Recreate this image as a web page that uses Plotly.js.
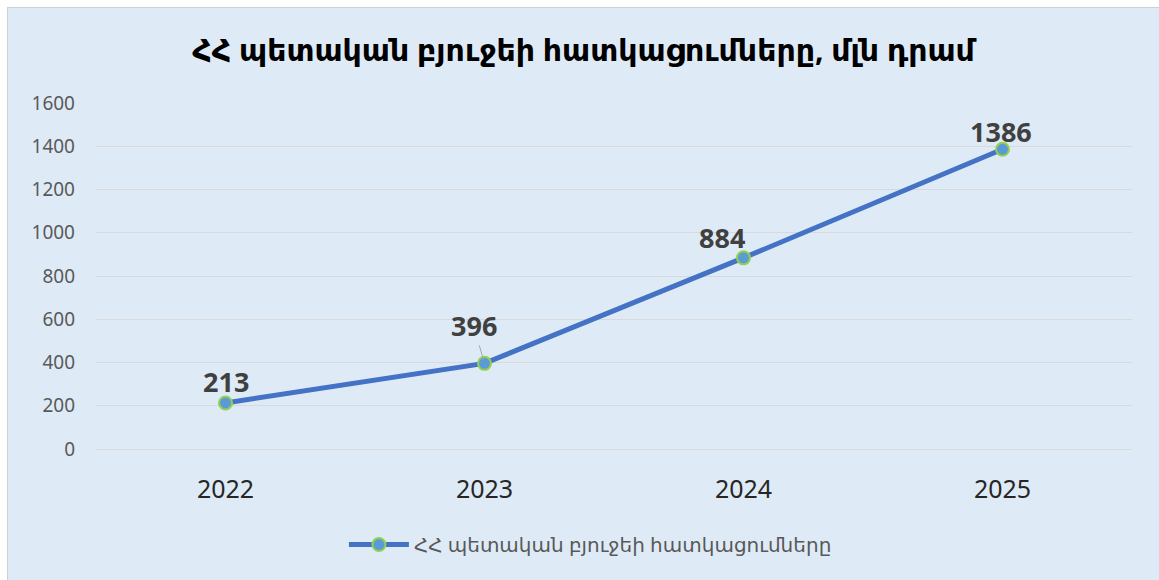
<!DOCTYPE html>
<html>
<head>
<meta charset="utf-8">
<script src="https://cdn.plot.ly/plotly-3.0.1.min.js"></script>
<style>
html,body{margin:0;padding:0;background:#ffffff;width:1159px;height:580px;overflow:hidden;}
#chart{position:absolute;left:7px;top:7px;width:1152px;height:573px;border-left:1px solid #d0d0d0;border-top:1px solid #d0d0d0;box-sizing:border-box;}
</style>
</head>
<body>
<div id="chart"></div>
<script>
const years = ["2022", "2023", "2024", "2025"];
const allocations = [213, 396, 884, 1386];
const seriesName = "ՀՀ պետական բյուջեի հատկացումները";
const chartTitle = "ՀՀ պետական բյուջեի հատկացումները, մլն դրամ";
const yTicks = [0, 200, 400, 600, 800, 1000, 1200, 1400, 1600];

const labelOffsets = [
  {ax: 0, ay: -21, arrow: false},
  {ax: -11, ay: -38, arrow: true},
  {ax: -22, ay: -20, arrow: false},
  {ax: -2, ay: -18, arrow: false}
];

const trace = {
  x: years,
  y: allocations,
  type: "scatter",
  mode: "lines+markers",
  name: seriesName,
  line: {color: "#4472c4", width: 5},
  marker: {size: 13, color: "#5b9bd5", line: {color: "#92d050", width: 2}},
  hoverinfo: "x+y"
};

const annotations = years.map((yr, i) => {
  const o = labelOffsets[i];
  const a = {
    x: i, y: allocations[i], xref: "x", yref: "y",
    text: "<b>" + allocations[i] + "</b>",
    font: {family: "Noto Sans, DejaVu Sans, sans-serif", size: 27, color: "#404040"}
  };
  if (o.arrow) {
    Object.assign(a, {showarrow: true, ax: o.ax, ay: o.ay, arrowhead: 0, arrowwidth: 1, arrowcolor: "#a6a6a6", standoff: 4});
  } else {
    Object.assign(a, {showarrow: false, xshift: o.ax, yshift: -o.ay, yanchor: "middle"});
  }
  return a;
});

const layout = {
  width: 1151, height: 572,
  paper_bgcolor: "#deebf7",
  plot_bgcolor: "#deebf7",
  margin: {l: 88, r: 27, t: 95, b: 131},
  title: {
    text: "<b>" + chartTitle + "</b>",
    font: {family: "Noto Sans, DejaVu Sans, sans-serif", size: 30, color: "#000000"},
    xref: "container", x: 0.5, xanchor: "center",
    yref: "container", y: 0.925, yanchor: "middle"
  },
  xaxis: {
    type: "category",
    range: [-0.5, 3.5],
    showgrid: false, zeroline: false, showline: false,
    ticks: "", ticklabelstandoff: 23,
    tickfont: {family: "Noto Sans, DejaVu Sans, sans-serif", size: 25, color: "#262626"},
    fixedrange: true
  },
  yaxis: {
    range: [0, 1600],
    tickvals: yTicks,
    ticktext: yTicks.map(String),
    showgrid: true, gridcolor: "#d9d9d9", gridwidth: 1,
    zeroline: true, zerolinecolor: "#d9d9d9", zerolinewidth: 1,
    showline: false, ticks: "", ticklabelstandoff: 20,
    tickfont: {family: "Noto Sans, DejaVu Sans, sans-serif", size: 19, color: "#595959"},
    fixedrange: true
  },
  showlegend: true,
  legend: {
    orientation: "h",
    xref: "container", x: 0.506, xanchor: "center",
    yref: "container", y: 0.062, yanchor: "middle",
    bgcolor: "rgba(0,0,0,0)",
    font: {family: "Noto Sans, DejaVu Sans, sans-serif", size: 20, color: "#595959"},
    itemwidth: 60
  },
  annotations: annotations
};

Plotly.newPlot("chart", [trace], layout, {displayModeBar: false, staticPlot: true});
</script>
</body>
</html>
